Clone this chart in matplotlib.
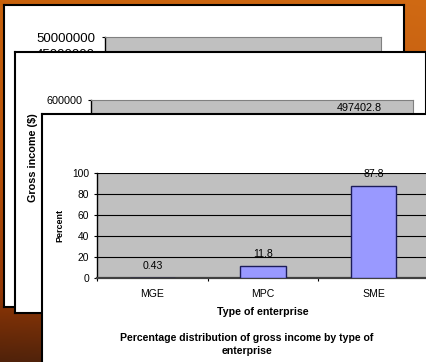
import numpy as np
import matplotlib
matplotlib.use("Agg")
import matplotlib.pyplot as plt

plt.rcParams['font.family'] = ['Liberation Sans', 'DejaVu Sans']

# ---- data ----
categories = ["MGE", "MPC", "SME"]
percent_values = [0.43, 11.8, 87.8]
percent_ticks = [0, 20, 40, 60, 80, 100]

income_categories = ["SME"]
income_values = [497402.8]
income_ticks = [600000]          # only this tick is visible (others hidden)

total_ticks = [45000000, 50000000]   # visible ticks of the back chart

W, H = 427, 362
fig = plt.figure(figsize=(W / 100, H / 100), dpi=100)


def rect(x0, y0, x1, y1):
    return [x0 / W, 1 - y1 / H, (x1 - x0) / W, (y1 - y0) / H]


def fpt(x, y):
    return (x / W, 1 - y / H)


# ---- background gradient ----
bg = fig.add_axes([0, 0, 1, 1])
bg.set_zorder(0)
yy = np.linspace(0, 1, H)[:, None]
xx = np.linspace(0, 1, W)[None, :]
stops_t = [0.0, 0.45, 0.8, 1.0]
stops_c = np.array([[200, 98, 12], [185, 82, 8], [148, 56, 5], [80, 34, 10]]) / 255
img = np.zeros((H, W, 3))
for k in range(3):
    col = np.interp(yy[:, 0], stops_t, stops_c[:, k])[:, None]
    img[:, :, k] = col + 0.03 * xx
img = np.clip(img, 0, 1)
bg.imshow(img, aspect='auto', extent=[0, 1, 0, 1])
bg.set_axis_off()


def panel(r, z):
    p = fig.add_axes(r)
    p.set_zorder(z)
    p.set_facecolor('white')
    p.set_xticks([])
    p.set_yticks([])
    for s in p.spines.values():
        s.set_color('black')
        s.set_linewidth(1.5)
    return p


def style_chart(ax, fs, pad):
    ax.set_facecolor('#c0c0c0')
    for name in ['top', 'right']:
        ax.spines[name].set_color('#808080')
        ax.spines[name].set_linewidth(0.8)
    ax.spines['left'].set_color('black')
    ax.spines['left'].set_linewidth(1.0)
    ax.tick_params(axis='y', direction='out', length=2.2, width=0.8,
                   labelsize=fs, pad=pad, colors='black')


# ---- panel 1 (back) ----
panel(rect(4.5, 4.5, 404, 307), 1)
c1 = fig.add_axes(rect(105, 37, 381, 207))
c1.set_zorder(2)
style_chart(c1, 9.5, 5.0)
c1.set_ylim(0, 50000000)
c1.set_yticks(total_ticks)
c1.set_yticklabels([str(t) for t in total_ticks])
c1.set_xticks([])
c1.set_xlim(-0.5, 2.5)

# ---- panel 2 (middle) ----
panel(rect(15, 52, 426, 313), 3)
c2 = fig.add_axes(rect(90.5, 100, 413, 215))
c2.set_zorder(4)
style_chart(c2, 7.8, 3.5)
c2.set_ylim(0, 600000)
c2.set_yticks(income_ticks)
c2.set_yticklabels([str(t) for t in income_ticks])
c2.set_xlim(-0.5, 2.5)
c2.set_xticks([])
pos2 = [categories.index(c) for c in income_categories]
c2.bar(pos2, income_values, width=0.41, color='#9999ff', edgecolor='#222266')
for p, v in zip(pos2, income_values):
    c2.annotate(f"{v}", (p, v), xytext=(0, 8.3), textcoords='offset points',
                ha='center', va='center', fontsize=7.8)
c2.text(*fpt(33, 157.5), "Gross income ($)", transform=fig.transFigure,
        rotation=90, ha='center', va='center', fontsize=7.8, fontweight='bold')

# ---- panel 3 (front) ----
panel(rect(42, 114, 445, 380), 5)
c3 = fig.add_axes(rect(97, 173, 429, 278))
c3.set_zorder(6)
c3.set_facecolor('#c0c0c0')
c3.set_xlim(-0.5, 2.5)
c3.set_ylim(0, 100)
c3.set_yticks(percent_ticks)
c3.set_yticklabels([str(t) for t in percent_ticks])
c3.tick_params(axis='y', direction='out', length=2.2, width=0.8,
               labelsize=7.4, pad=3.4)
c3.set_axisbelow(True)
c3.yaxis.grid(True, color='black', linewidth=0.8)
c3.set_xticks([-0.5, 0.5, 1.5, 2.5])
c3.set_xticklabels([])
c3.tick_params(axis='x', which='major', direction='out', length=2.5,
               width=0.8, color='black')
c3.set_xticks(range(len(categories)), minor=True)
c3.set_xticklabels(categories, minor=True)
c3.tick_params(axis='x', which='minor', length=0, labelsize=7.6, pad=8)
c3.spines['left'].set_color('black')
c3.spines['left'].set_linewidth(1.0)
c3.spines['bottom'].set_color('#404040')
c3.spines['bottom'].set_linewidth(1.6)
c3.spines['top'].set_visible(False)
c3.spines['right'].set_visible(False)
x3 = np.arange(len(categories))
c3.bar(x3, percent_values, width=0.41, color='#9999ff', edgecolor='#1c1c5a',
       linewidth=1.0, zorder=3)
for p, v in zip(x3, percent_values):
    c3.annotate(f"{v}", (p, v), xytext=(0, 8.3), textcoords='offset points',
                ha='center', va='center', fontsize=7.6, zorder=4)

c3.text(*fpt(60, 225.5), "Percent", transform=fig.transFigure, rotation=90,
        ha='center', va='center', fontsize=6.4, fontweight='bold')
c3.text(*fpt(263, 312), "Type of enterprise", transform=fig.transFigure,
        ha='center', va='center', fontsize=7.7, fontweight='bold')
c3.text(*fpt(247, 338), "Percentage distribution of gross income by type of",
        transform=fig.transFigure, ha='center', va='center', fontsize=7.6,
        fontweight='bold')
c3.text(*fpt(247, 351), "enterprise", transform=fig.transFigure,
        ha='center', va='center', fontsize=7.6, fontweight='bold')

fig.savefig("out.png", dpi=100)
